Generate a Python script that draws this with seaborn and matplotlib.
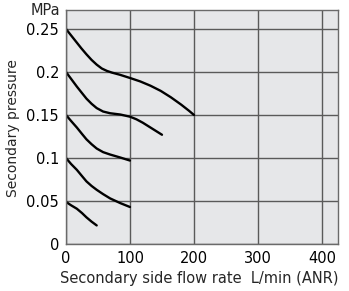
import pandas as pd
import matplotlib
matplotlib.use("Agg")
import matplotlib.pyplot as plt
import seaborn as sns

# Curves (flow L/min, pressure MPa)
flow_025 = [0, 8, 16, 24, 32, 40, 48, 56, 64, 72, 84, 100, 116, 132, 148, 164, 180, 192, 200]
pres_025 = [0.250, 0.2425, 0.235, 0.2275, 0.2205, 0.214, 0.2085, 0.204, 0.2012, 0.1992,
            0.1968, 0.1930, 0.1890, 0.1840, 0.1780, 0.1705, 0.1620, 0.1550, 0.150]

flow_020 = [0, 8, 17, 25, 32, 40, 48, 58, 69, 85, 100, 110, 120, 135, 150]
pres_020 = [0.200, 0.192, 0.183, 0.1755, 0.169, 0.163, 0.158, 0.154, 0.152, 0.1505,
            0.148, 0.145, 0.141, 0.134, 0.127]

flow_015 = [0, 8, 17, 25, 32, 40, 48, 58, 69, 85, 100]
pres_015 = [0.150, 0.143, 0.1354, 0.128, 0.1217, 0.116, 0.111, 0.1068, 0.104, 0.1005, 0.097]

flow_010 = [0, 8, 17, 25, 32, 40, 48, 58, 69, 85, 100]
pres_010 = [0.100, 0.093, 0.0862, 0.079, 0.0728, 0.0675, 0.063, 0.058, 0.053, 0.0475, 0.043]

flow_005 = [0, 8, 17, 25, 32, 40, 48]
pres_005 = [0.049, 0.045, 0.041, 0.036, 0.031, 0.026, 0.0216]

x_ticks = [0, 100, 200, 300, 400]
y_ticks = [0, 0.05, 0.1, 0.15, 0.2, 0.25]
y_tick_labels = ["0", "0.05", "0.1", "0.15", "0.2", "0.25"]

curves = [(flow_025, pres_025), (flow_020, pres_020), (flow_015, pres_015),
          (flow_010, pres_010), (flow_005, pres_005)]
rows = []
for i, (fx, py) in enumerate(curves):
    for a, b in zip(fx, py):
        rows.append({"curve": i, "flow": a, "pressure": b})
df = pd.DataFrame(rows)

sns.set_style("white")
plt.rcParams['font.family'] = ['DejaVu Sans']

fig = plt.figure(figsize=(3.49, 2.91), dpi=100)
ax = fig.add_axes([0.189, 0.1615, 0.7795, 0.8041])
ax.set_facecolor("#e6e7e9")

sns.lineplot(data=df, x="flow", y="pressure", units="curve", estimator=None,
             sort=False, color="black", linewidth=1.7, ax=ax)

ax.set_xlim(0, 425)
ax.set_ylim(0, 0.272)
ax.set_xticks(x_ticks)
ax.set_xticklabels([str(v) for v in x_ticks])
ax.set_yticks(y_ticks)
ax.set_yticklabels(y_tick_labels)
ax.tick_params(length=0, labelsize=10.5, pad=5, colors="black")
ax.grid(True, color="#5a5a5a", linewidth=1.0)
ax.set_axisbelow(True)
for s in ax.spines.values():
    s.set_color("#6a6a6a")
    s.set_linewidth(1.0)

ax.set_xlabel("Secondary side flow rate  L/min (ANR)", fontsize=10.5)
ax.set_ylabel("Secondary pressure", fontsize=10)
ax.xaxis.set_label_coords(0.489, -0.115)
ax.yaxis.set_label_coords(-0.168, 0.496)
ax.annotate("MPa", xy=(0, 1), xycoords="axes fraction", xytext=(-4, 0),
            textcoords="offset points", ha="right", va="center", fontsize=10.5)

plt.savefig("out.png", dpi=100)
